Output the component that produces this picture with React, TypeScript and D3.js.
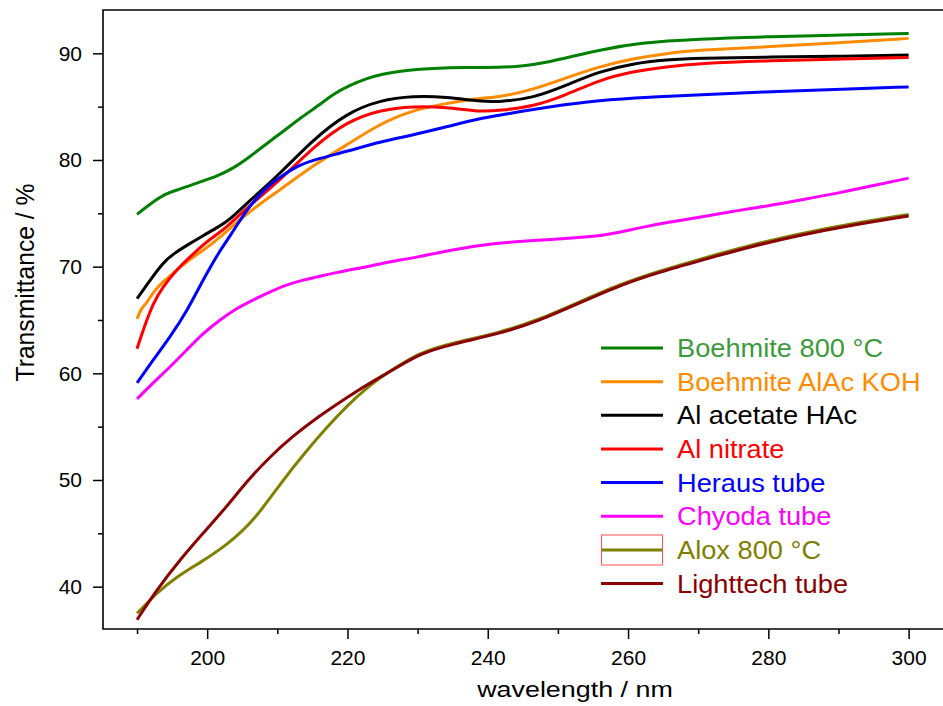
import { useRef, useEffect } from "react"
import * as d3 from "d3"

type Pt = [number, number]

// wavelength (nm), transmittance (%)
const boehmite800: Pt[] = [
  [190, 74.9], [191.9, 75.9], [194.2, 76.9], [196.1, 77.25], [199, 77.95], [201.3, 78.45],
  [203.7, 79.2], [206.1, 80.3], [208.5, 81.55], [210.8, 82.65], [213.2, 83.9], [216.1, 85.2],
  [218, 86.2], [220.3, 87.0], [222.7, 87.65], [225, 88.05], [227.5, 88.35], [232.2, 88.6],
  [237, 88.7], [241.7, 88.65], [245, 88.8], [248.8, 89.2], [252, 89.7], [255.9, 90.3],
  [261.6, 91.0], [270.1, 91.35], [279.7, 91.55], [289.2, 91.7], [300, 91.85],
]

const boehmiteAlAc: Pt[] = [
  [190, 65.1], [190.6, 66.1], [191.4, 66.6], [192.3, 67.6], [193.7, 68.6], [195.2, 69.4],
  [197.1, 70.5], [199.4, 71.5], [201.8, 72.7], [205.6, 75.0], [210.4, 77.2], [215.1, 79.5],
  [219.9, 81.4], [224.6, 83.4], [229.4, 84.7], [234.1, 85.3], [238.9, 85.8], [241.7, 85.9],
  [246.5, 86.6], [251.2, 87.7], [255.9, 88.75], [260.7, 89.5], [265.5, 90.0], [270.1, 90.3],
  [279.7, 90.6], [289.2, 90.95], [300, 91.4],
]

const alAcetate: Pt[] = [
  [190, 67.0], [191.4, 68.3], [193.7, 70.4], [195.2, 71.2], [197.1, 72.0], [199.4, 72.9],
  [201.8, 73.8], [203.2, 74.4], [205.6, 75.9], [208, 77.3], [210.4, 78.75], [215.1, 81.9],
  [219.9, 84.4], [224.6, 85.6], [229.4, 86.0], [234.1, 85.9], [238.9, 85.5], [241.7, 85.45],
  [246.5, 85.8], [251.2, 87.0], [255.9, 88.3], [260.7, 89.05], [265.5, 89.4], [270.1, 89.55],
  [279.7, 89.65], [289.2, 89.7], [300, 89.85],
]

const alNitrate: Pt[] = [
  [190, 62.3], [190.9, 64.1], [192.3, 66.6], [193.7, 68.1], [195.6, 69.7], [198, 71.2],
  [200.4, 72.6], [202.5, 73.5], [205.6, 75.5], [210.4, 78.1], [215.1, 81.2], [219.9, 83.6],
  [224.6, 84.7], [229.4, 85.05], [234.1, 84.95], [238.9, 84.5], [241.7, 84.65], [246.5, 85.0],
  [251.2, 86.1], [255.9, 87.5], [260.7, 88.3], [265.5, 88.75], [270.1, 89.05], [279.7, 89.3],
  [289.2, 89.45], [300, 89.6],
]

const heraus: Pt[] = [
  [190, 59.1], [192.3, 61.25], [194.7, 63.4], [197.1, 65.8], [199.4, 68.75], [201.8, 71.5],
  [203.2, 72.8], [205.6, 75.3], [208, 77.2], [210.4, 78.4], [212.7, 79.4], [215.1, 80.0],
  [219.9, 80.8], [224.6, 81.7], [229.4, 82.35], [234.1, 83.1], [238.9, 83.9], [241.7, 84.2],
  [248.8, 85.0], [255.9, 85.6], [263.1, 85.9], [270.1, 86.1], [279.7, 86.4], [289.2, 86.6],
  [300, 86.85],
]

const chyoda: Pt[] = [
  [190, 57.6], [192.3, 59.1], [194.7, 60.6], [197.1, 62.2], [199.4, 63.75], [201.8, 65.0],
  [204.2, 66.1], [206.6, 66.9], [209, 67.65], [211.3, 68.3], [213.7, 68.75], [216.1, 69.1],
  [218.4, 69.45], [220.8, 69.75], [223.2, 70.05], [226, 70.45], [230, 70.9], [235, 71.6],
  [240, 72.1], [245, 72.4], [250, 72.6], [255, 72.8], [258, 73.1], [262, 73.7], [266, 74.2],
  [270, 74.6], [275, 75.2], [280, 75.7], [285, 76.3], [290, 76.9], [295, 77.6], [300, 78.3],
]

const alox800: Pt[] = [
  [190, 37.5], [192.8, 39.4], [195.6, 40.9], [199, 42.25], [202.8, 43.9], [206.6, 46.1],
  [210.8, 50.0], [214, 52.6], [217, 54.9], [220, 57.0], [223, 58.8], [226, 60.2], [228, 61.0],
  [230.3, 61.9], [234.6, 62.8], [241.7, 63.8], [247.4, 65.05], [253.1, 66.7], [258.8, 68.35],
  [264.5, 69.6], [270.2, 70.7], [277.3, 72.0], [284.5, 73.1], [291.6, 74.0], [300, 74.9],
]

const lighttech: Pt[] = [
  [190, 36.9], [192.8, 39.7], [196.1, 42.5], [199.4, 45.0], [202.8, 47.5], [205.8, 50.0],
  [209, 52.2], [212, 54.0], [216, 56.0], [220, 57.8], [224, 59.4], [228, 60.9], [230.3, 61.8],
  [234.6, 62.7], [241.7, 63.7], [247.4, 64.95], [253.1, 66.6], [258.8, 68.25], [264.5, 69.5],
  [270.2, 70.55], [277.3, 71.85], [284.5, 72.95], [291.6, 73.85], [300, 74.75],
]

const seriesData = [boehmite800, boehmiteAlAc, alAcetate, alNitrate, heraus, chyoda, alox800, lighttech]
const seriesNames = [
  "Boehmite 800 °C", "Boehmite AlAc KOH", "Al acetate HAc", "Al nitrate",
  "Heraus tube", "Chyoda tube", "Alox 800 °C", "Lighttech tube",
]
const lineColors = ["#008000", "#ff8c00", "#000000", "#ff0000", "#0000ff", "#ff00ff", "#808000", "#8b0000"]
const textColors = ["#3d9a3d", "#ff8c00", "#000000", "#ff0000", "#0000ff", "#ff00ff", "#808000", "#8b0000"]

const xMajor = [200, 220, 240, 260, 280, 300]
const xMinor = [190, 210, 230, 250, 270, 290]
const yMajor = [40, 50, 60, 70, 80, 90]
const yMinor = [45, 55, 65, 75, 85]

const FONT = "'Liberation Sans', Arial, sans-serif"

export default function App() {
  const svgRef = useRef<SVGSVGElement>(null)

  useEffect(() => {
    const svg = d3.select(svgRef.current)
    svg.selectAll("*").remove()

    const left = 103
    const top = 10
    const right = 943
    const bottom = 629

    const x = d3.scaleLinear().domain([185.15, 304.9]).range([left, right])
    const y = d3.scaleLinear().domain([36.03, 94.06]).range([bottom, top])

    // curves (basis smooths the reading jitter a bit)
    const line = d3
      .line<Pt>()
      .x((d) => x(d[0]))
      .y((d) => y(d[1]))
      .curve(d3.curveBasis)

    seriesData.forEach((data, i) => {
      svg
        .append("path")
        .datum(data)
        .attr("fill", "none")
        .attr("stroke", lineColors[i])
        .attr("stroke-width", 3)
        .attr("stroke-linejoin", "round")
        .attr("d", line)
    })

    // axes
    const styleAxis = (g: d3.Selection<SVGGElement, unknown, null, undefined>) => {
      g.select(".domain").remove()
      g.selectAll("line").attr("stroke", "#000").attr("stroke-width", 1.5)
      g.selectAll("text").attr("fill", "#000").style("font-size", "21px").style("font-family", FONT)
    }

    svg
      .append("g")
      .attr("transform", `translate(0,${bottom})`)
      .call(d3.axisBottom(x).tickValues(xMajor).tickSize(10).tickPadding(11).tickFormat(d3.format("d")))
      .call(styleAxis)
    svg
      .append("g")
      .attr("transform", `translate(0,${bottom})`)
      .call(d3.axisBottom(x).tickValues(xMinor).tickSize(5).tickFormat(() => ""))
      .call(styleAxis)
    svg
      .append("g")
      .attr("transform", `translate(${left},0)`)
      .call(d3.axisLeft(y).tickValues(yMajor).tickSize(10).tickPadding(11).tickFormat(d3.format("d")))
      .call(styleAxis)
    svg
      .append("g")
      .attr("transform", `translate(${left},0)`)
      .call(d3.axisLeft(y).tickValues(yMinor).tickSize(5).tickFormat(() => ""))
      .call(styleAxis)

    // frame (left, top, bottom)
    svg
      .append("path")
      .attr("d", `M${right + 5},${bottom}H${left}V${top}H${right + 5}`)
      .attr("fill", "none")
      .attr("stroke", "#000")
      .attr("stroke-width", 1.6)

    // axis titles
    svg
      .append("text")
      .attr("transform", "translate(575,697) scale(1.25,1)")
      .attr("text-anchor", "middle")
      .style("font-size", "21.5px")
      .style("font-family", FONT)
      .text("wavelength / nm")

    svg
      .append("text")
      .attr("transform", "translate(33.5,282.5) rotate(-90) scale(0.95,1)")
      .attr("text-anchor", "middle")
      .style("font-size", "26px")
      .style("font-family", FONT)
      .text("Transmittance / %")

    // legend
    const legend = svg.append("g")
    seriesNames.forEach((name, i) => {
      const cy = 348 + i * 33.65
      legend
        .append("line")
        .attr("x1", 601)
        .attr("x2", 663)
        .attr("y1", cy)
        .attr("y2", cy)
        .attr("stroke", lineColors[i])
        .attr("stroke-width", 3)
      legend
        .append("text")
        .attr("transform", `translate(677,${cy + 9}) scale(1.09,1)`)
        .attr("fill", textColors[i])
        .style("font-size", "25px")
        .style("font-family", FONT)
        .text(name)
    })

    // selection box around the Alox entry
    legend
      .append("rect")
      .attr("x", 601.5)
      .attr("y", 535)
      .attr("width", 61)
      .attr("height", 30)
      .attr("fill", "none")
      .attr("stroke", "#ff5050")
      .attr("stroke-width", 1)
  }, [])

  return (
    <svg
      ref={svgRef}
      width={943}
      height={706}
      style={{ position: "absolute", left: 0, top: 0, background: "#fff" }}
    />
  )
}
